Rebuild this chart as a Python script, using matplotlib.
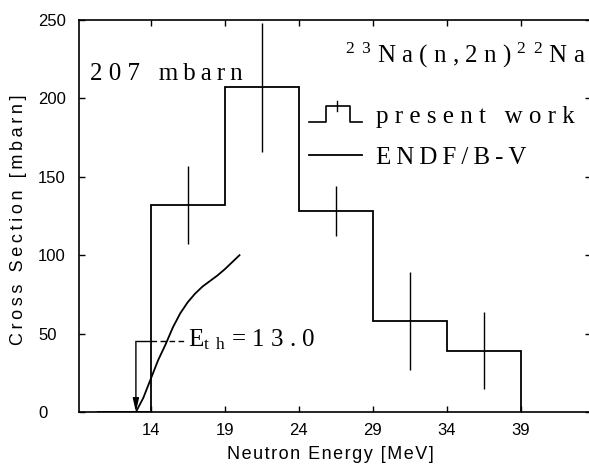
import matplotlib
matplotlib.use("Agg")
import matplotlib.pyplot as plt
import numpy as np
from matplotlib.lines import Line2D
from matplotlib.legend_handler import HandlerBase

# ---------------- data ----------------
bin_edges = [10.4, 14, 19, 24, 29, 34, 39]
cross_section = [0, 132, 207, 128, 58, 39]

err_energy = [16.5, 21.5, 26.5, 31.5, 36.5]
err_value = [132, 207, 128, 58, 39]
err_size = [25, 41, 16, 31, 24.5]

endf_energy = [13.0, 13.5, 14.0, 14.5, 15.0, 15.5, 16.0, 16.5, 17.0, 17.5,
               18.0, 18.5, 19.0, 19.5, 20.0]
endf_xs = [0, 9, 21, 33, 43, 54, 63, 70, 75.5, 80, 83.5, 87, 91, 95.5, 100]

x_ticks = [14, 19, 24, 29, 34, 39]
y_ticks = [0, 50, 100, 150, 200, 250]

threshold = 13.0
threshold_level = 45

THIN = "\u2009"
HAIR = "\u200a"

# ---------------- style ----------------
plt.rcParams["font.family"] = ["Liberation Sans", "DejaVu Sans"]
plt.rcParams["mathtext.fontset"] = "custom"
plt.rcParams["mathtext.rm"] = "Liberation Serif"
plt.rcParams["mathtext.it"] = "Liberation Serif"
SERIF = ["Liberation Serif", "DejaVu Serif"]
SFS = 18

W, H = 589, 467
fig = plt.figure(figsize=(W / 100, H / 100), dpi=100)
ax_left, ax_right, ax_top, ax_bottom = 79, 591, 20, 412
ax = fig.add_axes([ax_left / W, 1 - ax_bottom / H,
                   (ax_right - ax_left) / W, (ax_bottom - ax_top) / H])

px_per_mev = 14.8
x0 = 14 - (150.7 - ax_left) / px_per_mev
ax.set_xlim(x0, x0 + (ax_right - ax_left) / px_per_mev)
ax.set_ylim(0, 250)

# histogram
ax.stairs(cross_section, bin_edges, baseline=0, color="black", lw=1.3)
# error bars
ax.errorbar(err_energy, err_value, yerr=err_size, fmt="none",
            ecolor="black", elinewidth=1.0, capsize=0)
# ENDF curve
ax.plot(endf_energy, endf_xs, color="black", lw=1.3)

# threshold annotation
ax.plot([threshold, 14], [threshold_level, threshold_level], color="black", lw=1.0)
ax.plot([14, 16.45], [threshold_level, threshold_level], color="black", lw=1.0,
        dashes=(4, 2.5))
ax.annotate("", xy=(threshold, 0), xytext=(threshold, threshold_level),
            arrowprops=dict(arrowstyle="-|>,head_length=0.8,head_width=0.18",
                            color="black", lw=1.0, shrinkA=0, shrinkB=0))
ax.text(16.55, 42, r"E$_{\mathrm{t\;\;h}}$ = 1 3 . 0",
        family=SERIF, fontsize=SFS, va="baseline", ha="left")

ax.text(9.9, 211.7, "2 0 7   " + THIN.join("mbarn"), family=SERIF,
        fontsize=SFS, va="baseline", ha="left")
ax.text(27.13, 222.6,
        r"$^{2\;\;3}$ N a ( n , 2 n ) $^{2\;\;2}$ N a",
        family=SERIF, fontsize=SFS, va="baseline", ha="left")

# ticks
ax.set_xticks(x_ticks)
ax.set_yticks(y_ticks)
ax.tick_params(direction="in", top=True, right=True, length=4, width=1.0,
               labelsize=12)
ax.tick_params(axis="y", pad=29.5)
ax.tick_params(axis="x", pad=8)
for lab in ax.get_yticklabels():
    lab.set_horizontalalignment("left")
for sp in ax.spines.values():
    sp.set_linewidth(1.2)

ax.set_xlabel(HAIR.join("Neutron Energy [MeV]"), fontsize=13)
ax.xaxis.set_label_coords((330 - ax_left) / (ax_right - ax_left),
                          (ax_bottom - 446) / (ax_bottom - ax_top))
ax.set_ylabel(THIN.join("Cross Section [mbarn]"), fontsize=13)
ax.yaxis.set_label_coords((27 - ax_left) / (ax_right - ax_left),
                          (ax_bottom - 220) / (ax_bottom - ax_top))


# legend
class StepHandler(HandlerBase):
    def create_artists(self, legend, orig_handle, xdescent, ydescent,
                       width, height, fontsize, trans):
        fx = np.array([0, 0.32, 0.32, 0.78, 0.78, 1.0])
        fy = np.array([0.05, 0.05, 0.95, 0.95, 0.05, 0.05])
        step = Line2D(fx * width - xdescent, fy * height - ydescent,
                      color="black", lw=1.2, transform=trans)
        tick = Line2D([0.525 * width - xdescent] * 2,
                      [0.65 * height - ydescent, 1.25 * height - ydescent],
                      color="black", lw=1.0, transform=trans)
        return [step, tick]


step_handle = Line2D([], [], color="black")
endf_handle = Line2D([], [], color="black", lw=1.3)
leg = ax.legend([step_handle, endf_handle],
                ["p r e s e n t   w o r k", THIN.join("ENDF/B-V")],
                handler_map={step_handle: StepHandler()},
                loc="upper left",
                bbox_to_anchor=(309 / W, 1 - 105 / H),
                bbox_transform=fig.transFigure,
                frameon=False, borderpad=0, borderaxespad=0,
                handlelength=2.1, handletextpad=0.6, labelspacing=0.75,
                prop={"family": SERIF, "size": SFS})

fig.savefig("out.png", dpi=100)
